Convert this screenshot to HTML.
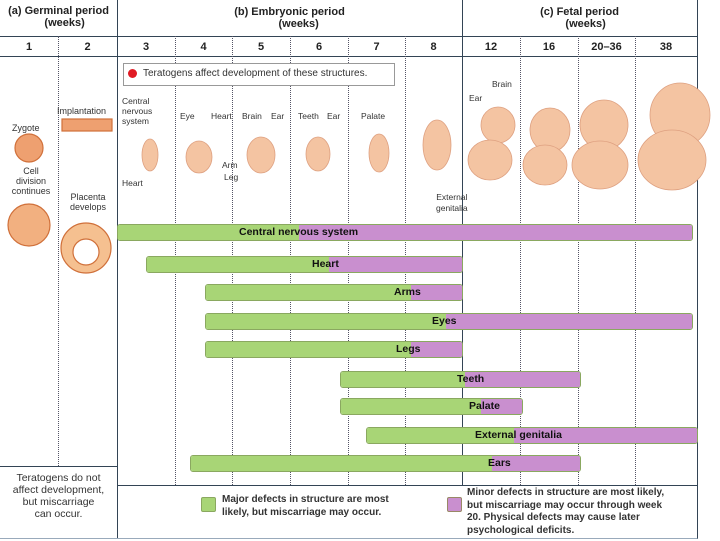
<!DOCTYPE html>
<html><head><style>
body{margin:0;width:720px;height:541px;background:#fff;position:relative;overflow:hidden;font-family:"Liberation Sans",sans-serif;}
.a{position:absolute}
.t{position:absolute;font-size:10px;color:#333;text-align:center}
.h{font-weight:bold;color:#222;font-size:11px}
.vl{position:absolute;top:36px;width:0;border-left:1px dotted #556}
.bar{position:absolute;height:15px;border-radius:3px;overflow:hidden;font-weight:bold;font-size:10.5px;color:#111;border:1px solid #8aa860}
.bar .g{position:absolute;left:0;top:0;bottom:0;background:#a8d576}
.bar .p{position:absolute;top:0;bottom:0;right:0;background:#c98fcf}
.bar span{position:absolute;top:1px;white-space:nowrap}
</style></head><body>
<div class="a" style="left:0;top:0;width:697px;height:538px;border-right:1px solid #345;border-bottom:1px solid #9ab"></div>
<div class="a" style="left:0;top:36px;width:697px;border-top:1px solid #345"></div>
<div class="a" style="left:0;top:56px;width:697px;border-top:1px solid #345"></div>
<div class="a" style="left:117px;top:0;height:538px;border-left:1px solid #345"></div>
<div class="a" style="left:462px;top:0;height:485px;border-left:1px solid #345"></div>
<div class="a" style="left:117px;top:485px;width:580px;border-top:1px solid #345"></div>
<div class="a" style="left:0;top:466px;width:117px;border-top:1px solid #345"></div>
<div class="vl" style="left:58px;height:430px"></div>
<div class="vl" style="left:175px;height:449px"></div>
<div class="vl" style="left:232px;height:449px"></div>
<div class="vl" style="left:290px;height:449px"></div>
<div class="vl" style="left:348px;height:449px"></div>
<div class="vl" style="left:405px;height:449px"></div>
<div class="vl" style="left:520px;height:449px"></div>
<div class="vl" style="left:578px;height:449px"></div>
<div class="vl" style="left:635px;height:449px"></div>
<div class="t h" style="left:0;top:5px;width:117px">(a) Germinal period<br>&nbsp;&nbsp;&nbsp;&nbsp;(weeks)</div>
<div class="t h" style="left:117px;top:6px;width:345px">(b) Embryonic period<br>&nbsp;&nbsp;&nbsp;&nbsp;&nbsp;&nbsp;(weeks)</div>
<div class="t h" style="left:462px;top:6px;width:235px">(c) Fetal period<br>&nbsp;&nbsp;&nbsp;&nbsp;(weeks)</div>
<div class="t h" style="left:0;top:41px;width:58px">1</div>
<div class="t h" style="left:58px;top:41px;width:59px">2</div>
<div class="t h" style="left:117px;top:41px;width:58px">3</div>
<div class="t h" style="left:175px;top:41px;width:57px">4</div>
<div class="t h" style="left:232px;top:41px;width:58px">5</div>
<div class="t h" style="left:290px;top:41px;width:58px">6</div>
<div class="t h" style="left:348px;top:41px;width:57px">7</div>
<div class="t h" style="left:405px;top:41px;width:57px">8</div>
<div class="t h" style="left:462px;top:41px;width:58px">12</div>
<div class="t h" style="left:520px;top:41px;width:58px">16</div>
<div class="t h" style="left:578px;top:41px;width:57px">20–36</div>
<div class="t h" style="left:635px;top:41px;width:62px">38</div>
<div class="a" style="left:123px;top:63px;width:270px;height:21px;border:1px solid #999;background:#fff"></div>
<div class="a" style="left:128px;top:69px;width:9px;height:9px;border-radius:50%;background:#e01b24"></div>
<div class="t" style="left:143px;top:68px;font-size:10px;text-align:left;white-space:nowrap">Teratogens affect development of these structures.</div>
<div class="t" style="left:12px;top:123px;font-size:9px">Zygote</div>
<div class="t" style="left:4px;top:166px;font-size:9px;width:54px;line-height:10px">Cell<br>division<br>continues</div>
<div class="t" style="left:57px;top:106px;font-size:9px">Implantation</div>
<div class="t" style="left:60px;top:192px;font-size:9px;width:56px;line-height:10px">Placenta<br>develops</div>
<div class="t" style="left:122px;top:96px;font-size:8.5px;text-align:left;line-height:10px">Central<br>nervous<br>system</div>
<div class="t" style="left:122px;top:178px;font-size:8.5px">Heart</div>
<div class="t" style="left:180px;top:111px;font-size:8.5px">Eye</div>
<div class="t" style="left:211px;top:111px;font-size:8.5px">Heart</div>
<div class="t" style="left:242px;top:111px;font-size:8.5px">Brain</div>
<div class="t" style="left:271px;top:111px;font-size:8.5px">Ear</div>
<div class="t" style="left:222px;top:160px;font-size:8.5px">Arm</div>
<div class="t" style="left:224px;top:172px;font-size:8.5px">Leg</div>
<div class="t" style="left:298px;top:111px;font-size:8.5px">Teeth</div>
<div class="t" style="left:327px;top:111px;font-size:8.5px">Ear</div>
<div class="t" style="left:361px;top:111px;font-size:8.5px">Palate</div>
<div class="t" style="left:436px;top:192px;font-size:8.5px;line-height:11px">External<br>genitalia</div>
<div class="t" style="left:469px;top:93px;font-size:8.5px">Ear</div>
<div class="t" style="left:492px;top:79px;font-size:8.5px">Brain</div>
<svg class="a" style="left:0;top:0" width="720" height="290">
<g fill="#eea070" stroke="#d0703a" stroke-width="1.2">
<circle cx="29" cy="148" r="14"/><circle cx="29" cy="225" r="21" fill="#f2b080"/>
<rect x="62" y="119" width="50" height="12"/>
<circle cx="86" cy="248" r="25" fill="#f5c090"/>
<circle cx="86" cy="252" r="13" fill="#fff"/>
</g>
<g fill="#f4c4a2" stroke="#dea080" stroke-width="0.8">
<ellipse cx="150" cy="155" rx="8" ry="16"/>
<ellipse cx="199" cy="157" rx="13" ry="16"/>
<ellipse cx="261" cy="155" rx="14" ry="18"/>
<ellipse cx="318" cy="154" rx="12" ry="17"/>
<ellipse cx="379" cy="153" rx="10" ry="19"/>
<ellipse cx="437" cy="145" rx="14" ry="25"/>
<ellipse cx="498" cy="125" rx="17" ry="18"/><ellipse cx="490" cy="160" rx="22" ry="20"/>
<ellipse cx="550" cy="130" rx="20" ry="22"/><ellipse cx="545" cy="165" rx="22" ry="20"/>
<ellipse cx="604" cy="125" rx="24" ry="25"/><ellipse cx="600" cy="165" rx="28" ry="24"/>
<ellipse cx="680" cy="115" rx="30" ry="32"/><ellipse cx="672" cy="160" rx="34" ry="30"/>
</g>
</svg>
<div class="bar" style="left:117px;top:224px;width:574px"><div class="g" style="width:181px"></div><div class="p" style="left:181px"></div><span style="left:121px">Central nervous system</span></div>
<div class="bar" style="left:146px;top:256px;width:315px"><div class="g" style="width:182px"></div><div class="p" style="left:182px"></div><span style="left:165px">Heart</span></div>
<div class="bar" style="left:205px;top:284px;width:256px"><div class="g" style="width:205px"></div><div class="p" style="left:205px"></div><span style="left:188px">Arms</span></div>
<div class="bar" style="left:205px;top:313px;width:486px"><div class="g" style="width:240px"></div><div class="p" style="left:240px"></div><span style="left:226px">Eyes</span></div>
<div class="bar" style="left:205px;top:341px;width:256px"><div class="g" style="width:205px"></div><div class="p" style="left:205px"></div><span style="left:190px">Legs</span></div>
<div class="bar" style="left:340px;top:371px;width:239px"><div class="g" style="width:124px"></div><div class="p" style="left:124px"></div><span style="left:116px">Teeth</span></div>
<div class="bar" style="left:340px;top:398px;width:181px"><div class="g" style="width:140px"></div><div class="p" style="left:140px"></div><span style="left:128px">Palate</span></div>
<div class="bar" style="left:366px;top:427px;width:330px"><div class="g" style="width:147px"></div><div class="p" style="left:147px"></div><span style="left:108px">External genitalia</span></div>
<div class="bar" style="left:190px;top:455px;width:389px"><div class="g" style="width:301px"></div><div class="p" style="left:301px"></div><span style="left:297px">Ears</span></div>
<div class="t" style="left:0;top:472px;width:117px;font-size:10.5px;line-height:12px">Teratogens do not<br>affect development,<br>but miscarriage<br>can occur.</div>
<div class="a" style="left:201px;top:497px;width:13px;height:13px;background:#a8d576;border:1px solid #8aa860;border-radius:2px"></div>
<div class="t" style="left:222px;top:493px;width:200px;text-align:left;font-weight:bold;font-size:10px;line-height:13px">Major defects in structure are most<br>likely, but miscarriage may occur.</div>
<div class="a" style="left:447px;top:497px;width:13px;height:13px;background:#c98fcf;border:1px solid #986;border-radius:2px"></div>
<div class="t" style="left:467px;top:487px;width:235px;text-align:left;font-weight:bold;font-size:10px;line-height:12.5px">Minor defects in structure are most likely,<br>but miscarriage may occur through week<br>20. Physical defects may cause later<br>psychological deficits.</div>
</body></html>
